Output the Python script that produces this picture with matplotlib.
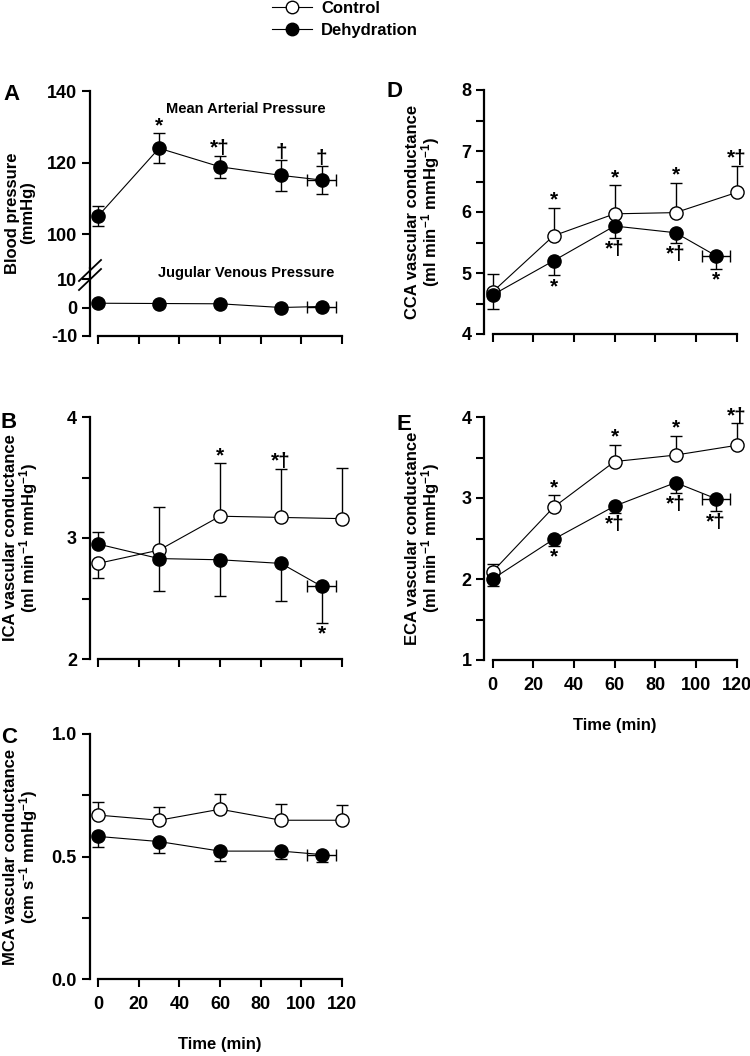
import numpy as np
import matplotlib.pyplot as plt
from matplotlib.lines import Line2D

plt.rcParams['font.family'] = ['Liberation Sans', 'DejaVu Sans']
plt.rcParams['font.weight'] = 'bold'
plt.rcParams['axes.unicode_minus'] = False
plt.rcParams['mathtext.fontset'] = 'custom'
plt.rcParams['mathtext.rm'] = 'Liberation Sans:bold'
plt.rcParams['mathtext.it'] = 'Liberation Sans:bold'
plt.rcParams['mathtext.bf'] = 'Liberation Sans:bold'

# time points (min)
t_ctl = [0, 30, 60, 90, 120]
t_dh = [0, 30, 60, 90, 110]
t_dh_sd = [0, 0, 0, 0, 7]
x_ticks = [0, 20, 40, 60, 80, 100, 120]

# A - mean arterial / jugular venous pressure (dehydration only)
map_dh = [105.0, 124.0, 118.8, 116.4, 115.1]
map_dh_err = [2.8, 4.2, 3.0, 4.3, 3.9]
map_marks = ['', '*', '*†', '†', '†']
jvp_dh = [1.5, 1.4, 1.3, 0.0, 0.35]
jvp_dh_err = [1.0, 0.8, 1.0, 0.8, 0.9]

# B - ICA vascular conductance
ica_ctl = [2.79, 2.90, 3.18, 3.17, 3.16]
ica_ctl_lo = [0.12, 0, 0, 0, 0]
ica_ctl_hi = [0, 0.36, 0.44, 0.40, 0.42]
ica_dh = [2.95, 2.83, 2.82, 2.79, 2.60]
ica_dh_lo = [0, 0.27, 0.30, 0.31, 0.30]
ica_dh_hi = [0.10, 0, 0, 0, 0]
ica_ctl_marks = ['', '', '*', '*†', '']
ica_dh_marks = ['', '', '', '', '*']

# C - MCA vascular conductance
mca_ctl = [0.669, 0.648, 0.693, 0.648, 0.648]
mca_ctl_hi = [0.053, 0.054, 0.061, 0.068, 0.061]
mca_dh = [0.582, 0.561, 0.522, 0.522, 0.508]
mca_dh_lo = [0.044, 0.046, 0.040, 0.033, 0.030]

# D - CCA vascular conductance
cca_ctl = [4.69, 5.61, 5.97, 5.99, 6.32]
cca_ctl_hi = [0.29, 0.46, 0.47, 0.49, 0.44]
cca_dh = [4.64, 5.20, 5.77, 5.66, 5.28]
cca_dh_lo = [0.23, 0.23, 0.20, 0.17, 0.21]
cca_ctl_marks = ['', '*', '*', '*', '*†']
cca_dh_marks = ['', '*', '*†', '*†', '*']

# E - ECA vascular conductance
eca_ctl = [2.09, 2.885, 3.45, 3.53, 3.65]
eca_ctl_hi = [0.09, 0.15, 0.21, 0.24, 0.27]
eca_dh = [2.00, 2.49, 2.90, 3.19, 2.99]
eca_dh_lo = [0.09, 0.08, 0.09, 0.13, 0.15]
eca_ctl_marks = ['', '*', '*', '*', '*†']
eca_dh_marks = ['', '*', '*†', '*†', '*†']

fig = plt.figure(figsize=(7.5, 10.56), dpi=100)
W, H = 750.0, 1056.0


def make_ax(left, top, bottom):
    return fig.add_axes([left / W, 1 - bottom / H, 260.7 / W, (bottom - top) / H])


def style(ax, ylim, yticks, minor=None, xlabels=False):
    ax.set_xlim(-4.2, 124)
    ax.set_ylim(*ylim)
    for s in ['top', 'right']:
        ax.spines[s].set_visible(False)
    for s in ['left', 'bottom']:
        ax.spines[s].set_linewidth(1.6)
    ax.spines['bottom'].set_bounds(0, 120)
    ax.set_xticks(x_ticks)
    ax.set_yticks(yticks)
    if minor is not None:
        ax.set_yticks(minor, minor=True)
    ax.tick_params(which='both', direction='out', length=6, width=1.5, labelsize=13, pad=3)
    ax.tick_params(axis='x', pad=6)
    if not xlabels:
        ax.set_xticklabels([])
    else:
        ax.set_xlabel('Time (min)', fontsize=12, fontweight='bold', va='top')


def ylab(ax, text, x):
    ax.set_ylabel(text, fontsize=12, fontweight='bold', linespacing=0.95)
    ax.yaxis.set_label_coords(x, 0.5)


def series(ax, t, y, lo, hi, filled, xerr=None):
    ax.errorbar(t, y, yerr=[lo, hi], xerr=xerr, fmt='o-', color='k', lw=0.8,
                ms=9.5, mfc='k' if filled else 'w', mec='k', mew=1,
                ecolor='k', elinewidth=1, capsize=4, capthick=1)


def marks(ax, t, y, err, labels, above):
    for ti, yi, ei, m in zip(t, y, err, labels):
        if not m:
            continue
        if above:
            ax.annotate(m, (ti, yi + ei), xytext=(0, -1.5), textcoords='offset points',
                        ha='center', va='bottom', fontsize=15)
        else:
            ax.annotate(m, (ti, yi - ei), xytext=(0, -1.5), textcoords='offset points',
                        ha='center', va='top', fontsize=15)


# ---- panel A (broken axis)
axA = make_ax(89.5, 91, 268)
axA2 = make_ax(89.5, 268, 336)
style(axA, (90.5, 140), [100, 120, 140])
axA.spines['bottom'].set_visible(False)
axA.tick_params(axis='x', which='both', bottom=False)
style(axA2, (-10, 13.86), [-10, 0, 10])
series(axA, t_dh, map_dh, map_dh_err, map_dh_err, True, t_dh_sd)
marks(axA, t_dh, map_dh, map_dh_err, map_marks, True)
series(axA2, t_dh, jvp_dh, jvp_dh_err, jvp_dh_err, True, t_dh_sd)
axA.text(0.6, 0.9, 'Mean Arterial Pressure', transform=axA.transAxes,
         ha='center', va='center', fontsize=10.5)
axA2.text(0.6, 0.93, 'Jugular Venous Pressure', transform=axA2.transAxes,
          ha='center', va='center', fontsize=10.5)
axA.set_ylabel('Blood pressure\n(mmHg)', fontsize=12, fontweight='bold', linespacing=0.95)
axA.yaxis.set_label_coords(-0.21, 1 - (213 - 91) / 177.0)
# break marks
for dy in (0, 9):
    fig.add_artist(Line2D([79 / W, 101 / W], [1 - (281 + dy) / H, 1 - (260 + dy) / H],
                          color='k', lw=1.3))

# ---- panel B
axB = make_ax(89.5, 417, 659)
style(axB, (2, 4), [2, 3, 4], [2.5, 3.5])
series(axB, t_ctl, ica_ctl, ica_ctl_lo, ica_ctl_hi, False)
series(axB, t_dh, ica_dh, ica_dh_lo, ica_dh_hi, True, t_dh_sd)
marks(axB, t_ctl, ica_ctl, ica_ctl_hi, ica_ctl_marks, True)
marks(axB, t_dh, ica_dh, ica_dh_lo, ica_dh_marks, False)
ylab(axB, 'ICA vascular conductance\n(ml min$^{-1}$ mmHg$^{-1}$)', -0.19)

# ---- panel C
axC = make_ax(89.5, 734, 979)
style(axC, (0, 1), [0, 0.5, 1.0], [0.25, 0.75], xlabels=True)
axC.set_yticklabels(['0.0', '0.5', '1.0'])
series(axC, t_ctl, mca_ctl, [0] * 5, mca_ctl_hi, False)
series(axC, t_dh, mca_dh, mca_dh_lo, [0] * 5, True, t_dh_sd)
ylab(axC, 'MCA vascular conductance\n(cm s$^{-1}$ mmHg$^{-1}$)', -0.19)
axC.xaxis.set_label_coords(0.5, -58 / 245.0)

# ---- panel D
axD = make_ax(484, 90, 334)
style(axD, (4, 8), [4, 5, 6, 7, 8], [4.5, 5.5, 6.5, 7.5])
series(axD, t_ctl, cca_ctl, [0] * 5, cca_ctl_hi, False)
series(axD, t_dh, cca_dh, cca_dh_lo, [0] * 5, True, t_dh_sd)
marks(axD, t_ctl, cca_ctl, cca_ctl_hi, cca_ctl_marks, True)
marks(axD, t_dh, cca_dh, cca_dh_lo, cca_dh_marks, False)
ylab(axD, 'CCA vascular conductance\n(ml min$^{-1}$ mmHg$^{-1}$)', -0.16)

# ---- panel E
axE = make_ax(484, 417, 660)
style(axE, (1, 4), [1, 2, 3, 4], [1.5, 2.5, 3.5], xlabels=True)
series(axE, t_ctl, eca_ctl, [0] * 5, eca_ctl_hi, False)
series(axE, t_dh, eca_dh, eca_dh_lo, [0] * 5, True, t_dh_sd)
marks(axE, t_ctl, eca_ctl, eca_ctl_hi, eca_ctl_marks, True)
marks(axE, t_dh, eca_dh, eca_dh_lo, eca_dh_marks, False)
ylab(axE, 'ECA vascular conductance\n(ml min$^{-1}$ mmHg$^{-1}$)', -0.16)
axE.xaxis.set_label_coords(0.5, -58 / 243.0)

# panel letters
for lab, x, y in [('A', 3, 100), ('B', 1, 428), ('C', 1, 743), ('D', 386, 97), ('E', 397, 430)]:
    fig.text(x / W, 1 - y / H, lab, fontsize=16, fontweight='bold', va='baseline')

# legend
h_ctl = Line2D([], [], color='k', lw=0.8, marker='o', ms=9, mfc='w', mec='k')
h_dh = Line2D([], [], color='k', lw=0.8, marker='o', ms=9, mfc='k', mec='k')
fig.legend([h_ctl, h_dh], ['Control', 'Dehydration'], loc='upper left',
           bbox_to_anchor=(272 / W, 1 - 1 / H), frameon=False, fontsize=12,
           handlelength=2.4, handletextpad=0.55, labelspacing=0.4, borderpad=0,
           borderaxespad=0)

fig.savefig('out.png', dpi=100)
